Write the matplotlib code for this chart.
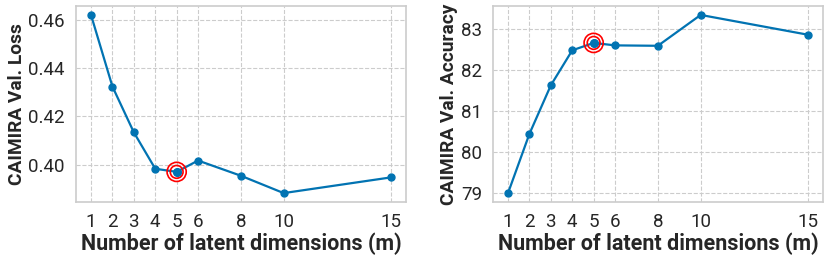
import numpy as np
import matplotlib
matplotlib.use("Agg")
from matplotlib import pyplot as plt
import seaborn as sns

sns.set_theme(style="whitegrid")
plt.rcParams['font.family'] = ['Roboto', 'DejaVu Sans']

dims = [1, 2, 3, 4, 5, 6, 8, 10, 15]
val_loss = [0.4621, 0.4324, 0.4134, 0.3983, 0.3970, 0.4017, 0.3954, 0.3882, 0.3947]
val_acc = [79.00, 80.44, 81.62, 82.47, 82.65, 82.59, 82.58, 83.33, 82.85]
best_m = 5
blue = '#0173b2'

fig, axes = plt.subplots(1, 2, figsize=(8.31, 2.62), dpi=100)
fig.subplots_adjust(left=0.0915, right=0.99, top=0.977, bottom=0.229, wspace=0.265)

panels = [(axes[0], val_loss, 'CAIMIRA Val. Loss', [0.40, 0.42, 0.44, 0.46], '{:.2f}'),
          (axes[1], val_acc, 'CAIMIRA Val. Accuracy', [79, 80, 81, 82, 83], '{:.0f}')]

for ax, vals, ylab, yt, fmt in panels:
    ax.plot(dims, vals, color=blue, lw=1.6, marker='o', ms=5, zorder=3)
    i = dims.index(best_m)
    ax.scatter([best_m], [vals[i]], s=190, facecolors='none', edgecolors='red', linewidths=1.2, zorder=4)
    ax.scatter([best_m], [vals[i]], s=85, facecolors='none', edgecolors='red', linewidths=1.2, zorder=4)
    ax.scatter([best_m], [vals[i]], s=30, color=blue, zorder=5)
    ax.set_xticks(dims)
    ax.set_yticks(yt)
    ax.set_yticklabels([fmt.format(v) for v in yt])
    ax.tick_params(labelsize=13.5, pad=2, colors='#262626')
    ax.grid(True, linestyle='--', color='#cccccc', lw=0.8)
    for s in ax.spines.values():
        s.set_color('#cccccc')
        s.set_linewidth(1.2)
    ax.set_xlabel('Number of latent dimensions (m)', fontsize=15.5, fontweight='bold', color='#262626', labelpad=1)
    ax.set_ylabel(ylab, fontsize=13.8, fontweight='bold', color='#262626', labelpad=2)

fig.savefig('out.png', dpi=100)
